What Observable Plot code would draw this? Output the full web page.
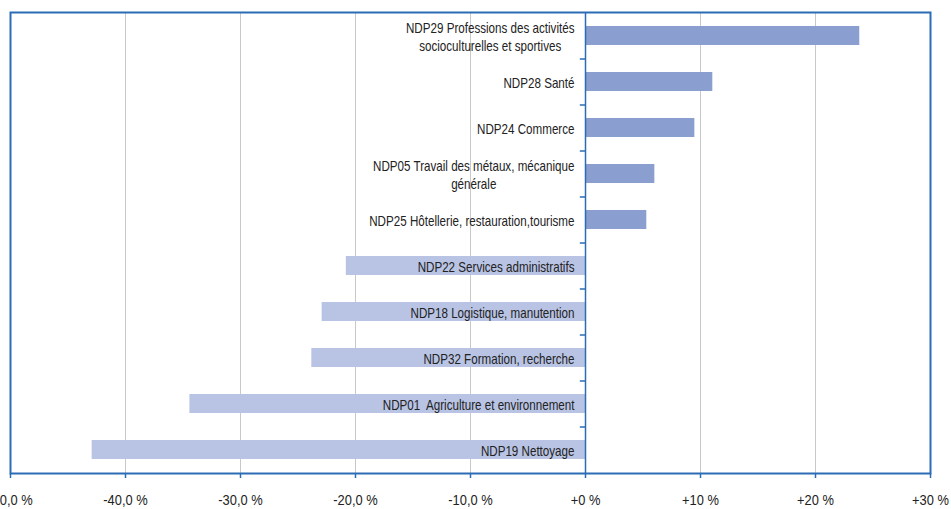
<!DOCTYPE html>
<html>
<head>
<meta charset="utf-8">
<script src="https://cdn.jsdelivr.net/npm/d3@7"></script>
<script src="https://cdn.jsdelivr.net/npm/@observablehq/plot@0.6"></script>
<style>
  html, body { margin: 0; padding: 0; background: #fff; }
  #chart { width: 951px; height: 509px; overflow: hidden; }
</style>
</head>
<body>
<div id="chart"></div>
<script>
// Data (top to bottom)
const categories = [
  "NDP29 Professions des activités\nsocioculturelles et sportives",
  "NDP28 Santé",
  "NDP24 Commerce",
  "NDP05 Travail des métaux, mécanique\ngénérale",
  "NDP25 Hôtellerie, restauration,tourisme",
  "NDP22 Services administratifs",
  "NDP18 Logistique, manutention",
  "NDP32 Formation, recherche",
  "NDP01  Agriculture et environnement",
  "NDP19 Nettoyage"
];
const values = [23.85, 11.07, 9.51, 6.03, 5.33, -20.8, -22.9, -23.8, -34.4, -42.9];
const xTicks = [-50, -40, -30, -20, -10, 0, 10, 20, 30];

const data = categories.map((c, i) => ({category: c, value: values[i]}));

const blue = "#2b6cb5";
const posColor = "#8a9fd0";
const negColor = "#b9c4e4";
const font = "'Liberation Sans', Arial, sans-serif";

const fmt = d => d < 0 ? d.toFixed(1).replace(".", ",") + " %" : "+" + d + " %";

const chart = Plot.plot({
  width: 951,
  height: 509,
  marginLeft: 10,
  marginRight: 21,
  marginTop: 12,
  marginBottom: 36,
  style: {fontFamily: font, background: "#fff", overflow: "visible"},
  x: {domain: [-50, 30], ticks: xTicks, label: null},
  y: {domain: categories, paddingInner: 0.585, paddingOuter: 0.2925, axis: null},
  marks: [
    Plot.gridX(xTicks, {stroke: "#c8c8c8", strokeOpacity: 1, strokeWidth: 1}),
    Plot.barX(data, {
      y: "category", x1: 0, x2: "value",
      fill: d => d.value >= 0 ? posColor : negColor
    }),
    Plot.ruleX([0], {stroke: blue, strokeWidth: 1.5}),
    Plot.ruleY(categories.slice(1), {y: d => d, x1: -0.45, x2: 0, dy: -23, stroke: blue, strokeWidth: 1.5}),
    Plot.frame({stroke: blue, strokeWidth: 2}),
    Plot.axisX({
      ticks: xTicks, tickFormat: fmt, tickSize: 5, tickPadding: 17, label: null,
      stroke: blue, fill: "#222", fontSize: 14, strokeWidth: 1.5, className: "xticks"
    }),
    Plot.text(data, {
      y: "category", x: 0, dx: -11, text: "category",
      textAnchor: "end", lineWidth: 200, lineHeight: 1.27,
      fontSize: 14, fill: "#222", className: "catlabel"
    })
  ]
});

document.getElementById("chart").appendChild(chart);

// Narrow (condensed) look: squeeze text horizontally around its anchor
chart.querySelectorAll(".catlabel text").forEach(t => {
  const spans = t.querySelectorAll("tspan");
  const tr = t.getAttribute("transform") || "";
  if (spans.length > 1) {
    // center lines within the block, keep right edge fixed
    let w = 0;
    spans.forEach(s => { w = Math.max(w, s.getComputedTextLength()); });
    t.setAttribute("text-anchor", "middle");
    t.setAttribute("transform", tr + ` scale(0.83,1) translate(${-w / 2},0)`);
  } else {
    t.setAttribute("transform", tr + " scale(0.83,1)");
  }
});
chart.querySelectorAll(".xticks text").forEach(t => {
  const tr = t.getAttribute("transform") || "";
  t.setAttribute("transform", tr + " scale(0.92,1)");
});
</script>
</body>
</html>
